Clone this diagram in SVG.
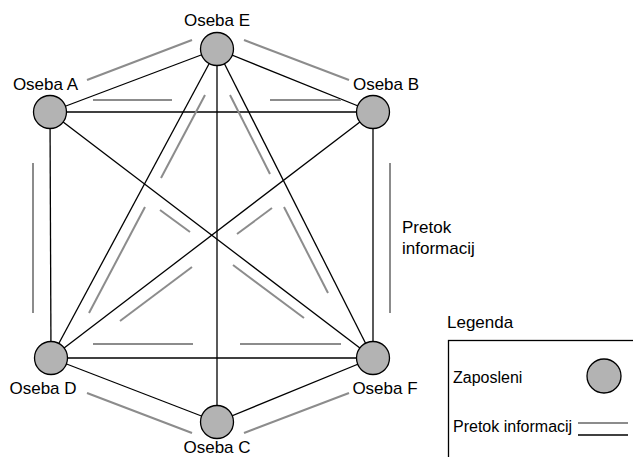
<svg xmlns="http://www.w3.org/2000/svg" width="633" height="457" viewBox="0 0 633 457">
<style>
.edge{stroke:#000;stroke-width:1.3;fill:none}
.flow{stroke:#8c8c8c;stroke-width:2;fill:none}
.node{fill:#b3b3b3;stroke:#000;stroke-width:1.3}
text{font-family:"Liberation Sans",Arial,Helvetica,sans-serif;font-size:17px;fill:#000}
.lg{font-size:16px}
</style>
<rect width="633" height="457" fill="#fff"/>
<g id="connectors">
<g id="edges">
<line class="edge" x1="50" y1="112" x2="217" y2="49"/>
<line class="edge" x1="217" y1="49" x2="373" y2="112"/>
<line class="edge" x1="50" y1="112" x2="373" y2="112"/>
<line class="edge" x1="50" y1="112" x2="51" y2="358"/>
<line class="edge" x1="373" y1="112" x2="373" y2="358"/>
<line class="edge" x1="50" y1="112" x2="373" y2="358"/>
<line class="edge" x1="373" y1="112" x2="51" y2="358"/>
<line class="edge" x1="217" y1="49" x2="51" y2="358"/>
<line class="edge" x1="217" y1="49" x2="373" y2="358"/>
<line class="edge" x1="217" y1="49" x2="217" y2="422"/>
<line class="edge" x1="51" y1="358" x2="373" y2="358"/>
<line class="edge" x1="51" y1="358" x2="217" y2="422"/>
<line class="edge" x1="217" y1="422" x2="373" y2="358"/>
</g>
<g id="flows">
<line class="flow" x1="87" y1="80" x2="192" y2="40"/>
<line class="flow" x1="244" y1="40" x2="349" y2="80"/>
<line class="flow" x1="33" y1="163" x2="33" y2="313"/>
<line class="flow" x1="390" y1="163" x2="390" y2="313"/>
<line class="flow" x1="87" y1="393" x2="192" y2="433"/>
<line class="flow" x1="244" y1="433" x2="349" y2="393"/>
<line class="flow" x1="93" y1="100" x2="172" y2="100"/>
<line class="flow" x1="270" y1="100" x2="341" y2="100"/>
<line class="flow" x1="93" y1="344" x2="193" y2="344"/>
<line class="flow" x1="240" y1="344" x2="341" y2="344"/>
<line class="flow" x1="205" y1="95" x2="161" y2="178"/>
<line class="flow" x1="145" y1="207" x2="89" y2="313"/>
<line class="flow" x1="230" y1="95" x2="270" y2="174"/>
<line class="flow" x1="284" y1="207" x2="328" y2="293"/>
<line class="flow" x1="160" y1="210" x2="190" y2="232"/>
<line class="flow" x1="233" y1="265" x2="304" y2="318"/>
<line class="flow" x1="272" y1="208" x2="237" y2="234"/>
<line class="flow" x1="192" y1="267" x2="120" y2="321"/>
</g>
</g>
<g id="node-E"><circle class="node" cx="217" cy="49" r="16.5"/><text x="217" y="26" text-anchor="middle">Oseba E</text></g>
<g id="node-A"><circle class="node" cx="50" cy="112" r="16.5"/><text x="45.5" y="90" text-anchor="middle">Oseba A</text></g>
<g id="node-B"><circle class="node" cx="373" cy="112" r="16.5"/><text x="386" y="90" text-anchor="middle">Oseba B</text></g>
<g id="node-D"><circle class="node" cx="51" cy="358" r="16.5"/><text x="43" y="394" text-anchor="middle">Oseba D</text></g>
<g id="node-C"><circle class="node" cx="217" cy="422" r="16.5"/><text x="217" y="453" text-anchor="middle">Oseba C</text></g>
<g id="node-F"><circle class="node" cx="373" cy="358" r="16.5"/><text x="385" y="394" text-anchor="middle">Oseba F</text></g>
<g id="flow-label"><text x="402" y="233">Pretok</text><text x="402" y="254">informacij</text></g>
<g id="legend">
<text x="447" y="328">Legenda</text>
<rect x="448.5" y="340.5" width="200" height="130" fill="none" stroke="#000" stroke-width="1.3"/>
<text class="lg" x="453" y="383">Zaposleni</text>
<circle class="node" cx="604" cy="376" r="17"/>
<text class="lg" x="453" y="432">Pretok informacij</text>
<line class="flow" x1="578" y1="423" x2="628" y2="423"/>
<line class="edge" x1="578" y1="435" x2="628" y2="435"/>
</g>
</svg>
